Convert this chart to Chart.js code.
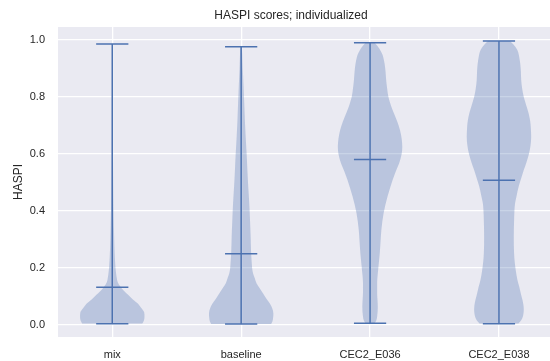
<!DOCTYPE html>
<html>
<head>
<meta charset="utf-8">
<script src="https://cdn.jsdelivr.net/npm/chart.js@4.4.1/dist/chart.umd.min.js"></script>
<style>
html,body{margin:0;padding:0;background:#ffffff;}
#wrap{width:550px;height:361px;position:relative;}
</style>
</head>
<body>
<div id="wrap"><canvas id="c"></canvas></div>
<script>
// ---------- data ----------
const categories = ['mix', 'baseline', 'CEC2_E036', 'CEC2_E038'];
const positions = [1, 2, 3, 4];
const yTicks = [0.0, 0.2, 0.4, 0.6, 0.8, 1.0];

const minScores  = [0.0046, 0.0035, 0.006, 0.0046];
const maxScores  = [0.986, 0.977, 0.991, 0.9965];
const meanScores = [0.133, 0.250, 0.581, 0.508];

// kernel density outlines (relative width, 1 = widest part of each violin)
const mixLevels  = [0.0046, 0.015, 0.03, 0.045, 0.06, 0.075, 0.09, 0.105, 0.12, 0.135, 0.15, 0.165, 0.18, 0.2, 0.25, 0.3, 0.4, 0.5, 0.6, 0.7, 0.8, 0.9, 0.986];
const mixDensity = [0.93, 0.98, 1.0, 0.99, 0.9, 0.8, 0.64, 0.5, 0.36, 0.25, 0.17, 0.14, 0.12, 0.1, 0.075, 0.06, 0.04, 0.03, 0.022, 0.017, 0.014, 0.012, 0.01];

const baselineLevels  = [0.0035, 0.012, 0.025, 0.04, 0.06, 0.076, 0.09, 0.111, 0.13, 0.146, 0.165, 0.181, 0.2, 0.216, 0.25, 0.31, 0.368, 0.43, 0.485, 0.54, 0.6, 0.66, 0.72, 0.78, 0.836, 0.9, 0.953, 0.977];
const baselineDensity = [0.93, 0.97, 0.99, 1.0, 0.96, 0.89, 0.8, 0.68, 0.57, 0.48, 0.42, 0.37, 0.34, 0.33, 0.31, 0.295, 0.275, 0.25, 0.22, 0.195, 0.17, 0.14, 0.115, 0.095, 0.075, 0.05, 0.035, 0.025];

const e036Levels  = [0.006, 0.015, 0.03, 0.064, 0.09, 0.111, 0.15, 0.181, 0.25, 0.3, 0.333, 0.392, 0.45, 0.509, 0.54, 0.567, 0.6, 0.626, 0.655, 0.684, 0.715, 0.743, 0.77, 0.8, 0.83, 0.86, 0.89, 0.918, 0.94, 0.953, 0.97, 0.982, 0.991];
const e036Density = [0.14, 0.19, 0.22, 0.24, 0.23, 0.22, 0.22, 0.24, 0.3, 0.33, 0.35, 0.42, 0.54, 0.7, 0.8, 0.9, 0.98, 1.0, 0.98, 0.93, 0.84, 0.74, 0.65, 0.57, 0.53, 0.5, 0.48, 0.45, 0.41, 0.37, 0.29, 0.21, 0.14];

const e038Levels  = [0.0046, 0.012, 0.023, 0.04, 0.055, 0.07, 0.088, 0.11, 0.134, 0.16, 0.193, 0.22, 0.25, 0.31, 0.368, 0.4, 0.427, 0.455, 0.485, 0.515, 0.544, 0.57, 0.6, 0.63, 0.66, 0.69, 0.715, 0.743, 0.77, 0.8, 0.83, 0.86, 0.89, 0.918, 0.94, 0.965, 0.985, 0.9965];
const e038Density = [0.6, 0.66, 0.72, 0.76, 0.77, 0.76, 0.73, 0.68, 0.63, 0.57, 0.52, 0.49, 0.47, 0.46, 0.47, 0.48, 0.5, 0.55, 0.61, 0.69, 0.77, 0.85, 0.93, 0.98, 1.0, 0.99, 0.97, 0.92, 0.85, 0.77, 0.72, 0.69, 0.68, 0.66, 0.63, 0.57, 0.45, 0.34];

const allLevels = [mixLevels, baselineLevels, e036Levels, e038Levels];
const allDensity = [mixDensity, baselineDensity, e036Density, e038Density];

// ---------- style ----------
const LINE = '#4c72b0';
const FILL = 'rgba(76,114,176,0.3)';
const HALF_WIDTH = 0.25;   // violin widths = 0.5
const CAP_HALF = 0.125;
const TXT = '#262626';
const FONT = "'Liberation Sans', Arial, 'DejaVu Sans', sans-serif";

const lineSets = [];
const violinSets = [];
categories.forEach((cat, i) => {
  const p = positions[i];
  const base = {
    indexAxis: 'y', borderColor: LINE, borderWidth: 1.5, pointRadius: 0,
    pointHoverRadius: 0, fill: false, tension: 0
  };
  lineSets.push(Object.assign({}, base, {
    label: cat + ' range',
    data: [{x: p, y: minScores[i]}, {x: p, y: maxScores[i]}]
  }));
  [minScores[i], meanScores[i], maxScores[i]].forEach((v, k) => {
    lineSets.push(Object.assign({}, base, {
      label: cat + [' min', ' mean', ' max'][k],
      data: [{x: p - CAP_HALF, y: v}, {x: p + CAP_HALF, y: v}]
    }));
  });
  const vbase = {
    indexAxis: 'y', borderColor: 'rgba(0,0,0,0)', borderWidth: 0, pointRadius: 0,
    pointHoverRadius: 0, cubicInterpolationMode: 'monotone', backgroundColor: FILL
  };
  violinSets.push(Object.assign({}, vbase, {
    label: cat + ' right', fill: false,
    data: allLevels[i].map((v, k) => ({x: p + HALF_WIDTH * allDensity[i][k], y: v}))
  }));
  violinSets.push(Object.assign({}, vbase, {
    label: cat + ' left', fill: '-1',
    data: allLevels[i].map((v, k) => ({x: p - HALF_WIDTH * allDensity[i][k], y: v}))
  }));
});

const plotBg = {
  id: 'plotBg',
  beforeDraw(chart) {
    const {ctx, chartArea: a} = chart;
    ctx.save();
    ctx.fillStyle = '#eaeaf2';
    ctx.fillRect(a.left, a.top, a.right - a.left, a.bottom - a.top);
    ctx.restore();
  }
};
const titlePlace = {
  id: 'titlePlace',
  afterLayout(chart) {
    const t = chart.titleBlock;
    if (t) { t.left = 32; t.right = 550; t.width = 518; }
  }
};

new Chart(document.getElementById('c'), {
  type: 'line',
  data: { datasets: lineSets.concat(violinSets) },
  plugins: [plotBg, titlePlace],
  options: {
    indexAxis: 'y',
    responsive: true,
    maintainAspectRatio: false,
    animation: false,
    events: [],
    layout: { padding: { left: 0, right: 0, top: 0, bottom: 0 } },
    plugins: {
      legend: { display: false },
      tooltip: { enabled: false },
      title: {
        display: true,
        text: 'HASPI scores; individualized',
        color: TXT,
        font: { family: FONT, size: 12, weight: 'normal' },
        padding: { top: 8, bottom: 4.6 }
      }
    },
    scales: {
      x: {
        type: 'linear',
        position: 'bottom',
        min: 0.579,
        max: 4.396,
        afterBuildTicks: s => { s.ticks = positions.map(v => ({value: v})); },
        afterFit: s => { s.height = 24; },
        ticks: {
          callback: v => categories[positions.indexOf(v)],
          color: TXT,
          font: { family: FONT, size: 11 },
          padding: 11,
          autoSkip: false,
          maxRotation: 0
        },
        grid: { color: '#ffffff', lineWidth: 1.3, drawTicks: false },
        border: { display: false }
      },
      y: {
        type: 'linear',
        position: 'left',
        min: -0.042,
        max: 1.046,
        afterBuildTicks: s => { s.ticks = yTicks.map(v => ({value: v})); },
        afterFit: s => { s.width = 58; },
        ticks: {
          callback: v => Number(v).toFixed(1),
          color: TXT,
          font: { family: FONT, size: 11 },
          padding: 13
        },
        title: {
          display: true,
          text: 'HASPI',
          color: TXT,
          font: { family: FONT, size: 12 },
          padding: { top: 11, bottom: 0 }
        },
        grid: { color: '#ffffff', lineWidth: 1.3, drawTicks: false },
        border: { display: false }
      }
    }
  }
});
</script>
</body>
</html>
